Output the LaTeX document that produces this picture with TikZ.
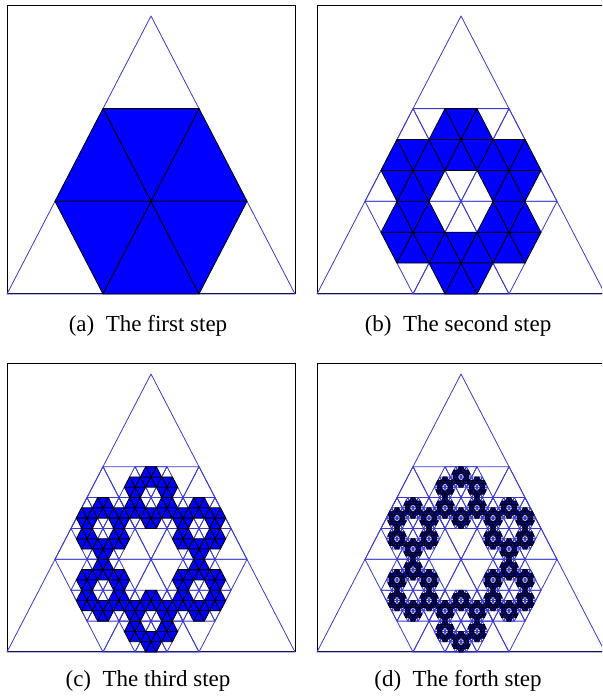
\documentclass[tikz,border=0pt]{standalone}
\usepackage{fontspec}
\setmainfont{Liberation Serif}
\definecolor{gridblue}{HTML}{3A3AD0}
\definecolor{solidblue}{HTML}{0000FF}
\tikzset{
  gridline/.style   = {draw=gridblue, line width=0.4pt, line join=round},
  piece/.style      = {fill=solidblue, draw=black, line width=0.4pt, line join=round},
  panelframe/.style = {draw=black, line width=0.5pt},
  subcap/.style     = {font=\fontsize{11.5}{13}\selectfont, anchor=base, inner sep=0pt},
}
% one level: outline the triangle, then put six thirds round its centre
\newcommand{\hexstep}[1]{%
  \ifnum#1>0
    \path[gridline] (90:1) -- (210:1) -- (330:1) -- cycle;
    \foreach \a/\r in {30/0, 90/180, 150/0, 210/180, 270/0, 330/180} {
      \begin{scope}[shift={(\a:0.333333)}, rotate=\r, scale=0.333333]
        \hexstep{\numexpr#1-1\relax}
      \end{scope}}%
  \else
    \path[piece] (90:1) -- (210:1) -- (330:1) -- cycle;
  \fi}

\begin{document}
\begin{tikzpicture}[x=0.5pt, y=0.5pt]
  \useasboundingbox (0,0) rectangle (602,699);
  \clip (0,0) rectangle (602,699);

  \foreach \cx/\by/\capy/\lvl/\lab/\txt in {%
      151/405/367/1/a/first,
      461/405/367/2/b/second,
      151/47/12/3/c/third,
      461/47/12/4/d/forth} {
    \draw[panelframe] (\cx-144,\by) rectangle (\cx+144,\by+288);
    \begin{scope}[shift={(\cx,\by+92.67)}, xscale=166.28, yscale=185.35]
      \hexstep{\lvl}
    \end{scope}
    \node[subcap] (cap\lab) at (\cx-3,\capy) {(\lab)\hskip0.5em The \txt\ step};
  }
\end{tikzpicture}
\end{document}
